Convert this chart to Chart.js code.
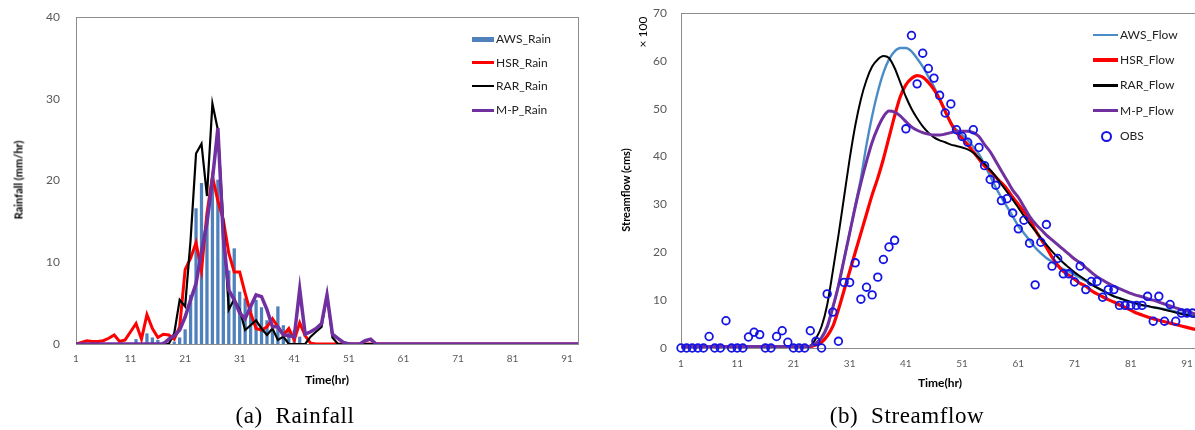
<!DOCTYPE html>
<html>
<head>
<meta charset="utf-8">
<script src="https://cdn.jsdelivr.net/npm/chart.js@4.4.1/dist/chart.umd.min.js"></script>
<style>
  body { margin: 0; width: 1195px; height: 430px; overflow: hidden; background: #fff; position: relative; font-family: Lato, "Open Sans", sans-serif; }
  .wrap { position: absolute; top: 0; height: 380px; }
  .lbl { position: absolute; white-space: nowrap; color: #000; }
  .ytitle { font-weight: bold; font-size: 11px; transform: translate(-50%, -50%) rotate(-90deg); }
  .xtitle { font-weight: bold; font-size: 12px; transform: translate(-50%, -50%); }
  .caption { font-family: "Liberation Serif", "DejaVu Serif", serif; font-size: 23px; letter-spacing: 0.6px; transform: translate(-50%, -50%); }
  .leg { position: absolute; font-size: 12px; color: #222; white-space: nowrap; }
  .leg .sw { position: absolute; }
</style>
</head>
<body>
<div class="wrap" style="left:0; width:600px;"><canvas id="rainChart"></canvas></div>
<div class="wrap" style="left:600px; width:604px;"><canvas id="flowChart"></canvas></div>

<div class="lbl ytitle" style="left:18px; top:180px;">Rainfall (mm/hr)</div>
<div class="lbl xtitle" style="left:327px; top:379px;">Time(hr)</div>
<div class="lbl caption" style="left:295px; top:416px;">(a)&nbsp;&nbsp;Rainfall</div>

<div class="lbl ytitle" style="left:625px; top:190px;">Streamflow (cms)</div>
<div class="lbl ytitle" style="left:642px; top:32px; font-weight:normal; font-size:12px;">× 100</div>
<div class="lbl xtitle" style="left:940px; top:382px;">Time(hr)</div>
<div class="lbl caption" style="left:907px; top:416px;">(b)&nbsp;&nbsp;Streamflow</div>

<script>
// hours 1..93
const hours = Array.from({length: 93}, (_, i) => i + 1);
const tickHours = [1, 11, 21, 31, 41, 51, 61, 71, 81, 91];

// rainfall (mm/hr)
const awsRain = [
  0, 0, 0, 0, 0, 0, 0, 0, 0, 0,
  0, 0.6, 0, 1.3, 0.8, 0.5, 0.3, 0, 0.3, 0.8,
  1.8, 6.0, 16.6, 19.7, 15.0, 19.5, 20.1, 15.0, 9.0, 11.7,
  6.4, 5.6, 4.6, 5.4, 4.5, 2.9, 1.7, 4.6, 2.3, 1.7,
  1.7, 0.9, 0, 0, 0, 0, 0, 0, 0, 0,
  0, 0, 0, 0, 0, 0, 0, 0, 0, 0,
  0, 0, 0, 0, 0, 0, 0, 0, 0, 0,
  0, 0, 0, 0, 0, 0, 0, 0, 0, 0,
  0, 0, 0, 0, 0, 0, 0, 0, 0, 0,
  0, 0, 0
];
const hsrRain = [
  0, 0.2, 0.4, 0.3, 0.3, 0.4, 0.7, 1.1, 0.3, 0.5,
  1.5, 2.5, 0.6, 3.6, 1.9, 0.8, 1.2, 1.1, 0.6, 2.1,
  9.1, 10.5, 12.4, 9.0, 16.0, 20.5, 17.5, 15.2, 11.1, 8.8,
  8.8, 6.2, 3.8, 1.9, 1.7, 2.1, 3.1, 2.1, 1.1, 1.9,
  0.5, 2.6, 1.0, 0.1, 0, 0, 0, 0, 0, 0,
  0, 0, 0, 0, 0, 0, 0, 0, 0, 0,
  0, 0, 0, 0, 0, 0, 0, 0, 0, 0,
  0, 0, 0, 0, 0, 0, 0, 0, 0, 0,
  0, 0, 0, 0, 0, 0, 0, 0, 0, 0,
  0, 0, 0
];
const rarRain = [
  0, 0, 0, 0, 0, 0, 0, 0, 0, 0,
  0, 0, 0, 0, 0, 0, 0, 0, 1.3, 5.4,
  4.6, 12.7, 23.3, 24.5, 18.1, 29.4, 26.2, 14.8, 4.2, 5.5,
  4.2, 1.7, 2.3, 2.9, 1.9, 1.1, 1.9, 0.5, 0.9, 0,
  0, 0, 0, 0.9, 1.5, 2.1, 6.0, 0.8, 0, 0,
  0, 0, 0, 0, 0, 0, 0, 0, 0, 0,
  0, 0, 0, 0, 0, 0, 0, 0, 0, 0,
  0, 0, 0, 0, 0, 0, 0, 0, 0, 0,
  0, 0, 0, 0, 0, 0, 0, 0, 0, 0,
  0, 0, 0
];
const mpRain = [
  0, 0, 0, 0, 0, 0, 0, 0, 0, 0,
  0, 0, 0, 0, 0, 0, 0, 0.6, 1.0, 1.7,
  3.3, 5.4, 7.4, 11.3, 14.8, 20.1, 26.4, 13.0, 6.6, 5.4,
  3.8, 3.1, 4.6, 6.0, 5.8, 4.2, 2.1, 2.1, 1.1, 1.0,
  0.9, 6.7, 1.2, 1.5, 1.9, 2.5, 6.0, 1.2, 0.7, 0.2,
  0, 0, 0, 0.4, 0.6, 0, 0, 0, 0, 0,
  0, 0, 0, 0, 0, 0, 0, 0, 0, 0,
  0, 0, 0, 0, 0, 0, 0, 0, 0, 0,
  0, 0, 0, 0, 0, 0, 0, 0, 0, 0,
  0, 0, 0
];

// streamflow (x100 cms)
const awsFlow = [
  0.3, 0.3, 0.3, 0.3, 0.3, 0.3, 0.3, 0.3, 0.3, 0.3,
  0.3, 0.3, 0.3, 0.3, 0.3, 0.3, 0.3, 0.3, 0.3, 0.3,
  0.3, 0.3, 0.3, 0.4, 0.8, 2.0, 4.2, 8.3, 13, 18.5,
  24, 29.8, 35.5, 42.5, 48.5, 53.5, 57.5, 60.3, 62, 62.7,
  62.7, 62, 60.5, 58.8, 56.7, 54.6, 52, 49.3, 47, 45.6,
  44.5, 43.5, 42, 40.5, 38.3, 35.9, 33.5, 31.4, 29.5, 27.5,
  25.5, 24, 22.5, 21, 19.8, 18.8, 18, 17.2, 16.5, 16,
  15.3, 14.7, 14, 13.3, 12.6, 12, 11.3, 10.8, 10.4, 10,
  9.6, 9.2, 8.9, 8.7, 8.5, 8.3, 8.1, 7.9, 7.6, 7.3,
  7.1, 7.0, 6.8
];
const hsrFlow = [
  0.3, 0.3, 0.3, 0.3, 0.3, 0.3, 0.3, 0.3, 0.3, 0.3,
  0.3, 0.3, 0.3, 0.3, 0.3, 0.3, 0.3, 0.3, 0.3, 0.3,
  0.3, 0.3, 0.3, 0.3, 0.6, 1.2, 2.5, 4.5, 8, 12,
  16, 20, 24, 28, 32, 35.5, 39.5, 44, 48.5, 52.5,
  55, 56.3, 56.9, 56.6, 55.5, 54, 52, 49.5, 47, 45,
  43.8, 42.5, 41, 39.5, 38, 37, 35.7, 34.5, 33.2, 31.5,
  30, 28.5, 27, 24.7, 22.8, 21, 19, 17.3, 16, 15.2,
  14.4, 13.5, 12.9, 12, 11.3, 10.7, 10.1, 9.6, 9, 8.5,
  7.9, 7.3, 6.9, 6.5, 6.1, 5.8, 5.5, 5.2, 4.9, 4.6,
  4.3, 4.0, 3.8
];
const rarFlow = [
  0.3, 0.3, 0.3, 0.3, 0.3, 0.3, 0.3, 0.3, 0.3, 0.3,
  0.3, 0.3, 0.3, 0.3, 0.3, 0.3, 0.3, 0.3, 0.3, 0.3,
  0.3, 0.3, 0.3, 0.5, 2, 4.5, 9, 16, 23.5, 31.5,
  39.5, 46.5, 52, 56, 58.8, 60.3, 61, 60.6, 58.5, 55.5,
  52.5, 50, 48, 46.3, 45, 44, 43.4, 43, 42.5, 42.2,
  41.9, 41.5, 40.8, 39.7, 38.5, 37.2, 35.8, 34.2, 32.6, 31,
  29.3, 27.6, 26, 24.5, 23, 21.6, 20.2, 19, 17.8, 16.8,
  15.8, 15, 14.2, 13.3, 12.6, 12, 11.4, 10.8, 10.4, 10,
  9.6, 9.3, 9, 8.8, 8.5, 8.3, 8, 7.7, 7.4, 7.1,
  6.9, 6.6, 6.4
];
const mpFlow = [
  0.3, 0.3, 0.3, 0.3, 0.3, 0.3, 0.3, 0.3, 0.3, 0.3,
  0.3, 0.3, 0.3, 0.3, 0.3, 0.3, 0.3, 0.3, 0.3, 0.3,
  0.3, 0.3, 0.3, 0.4, 1, 2.2, 4.5, 8.5, 13, 18.5,
  24, 29.5, 34.5, 39, 43, 46, 48.3, 49.5, 49.3, 48.5,
  47.3, 46.2, 45.5, 45, 44.7, 44.5, 44.5, 44.7, 45, 45.3,
  45.3, 45.3, 45, 44.2, 42.5, 41, 39, 37, 35, 33,
  31.5, 29.5, 27.5, 26, 24.8, 23.6, 22.6, 21.6, 20.6, 19.6,
  18.6, 17.8, 16.8, 15.8, 14.9, 14.2, 13.5, 12.9, 12.4, 11.9,
  11.4, 11, 10.7, 10.3, 10, 9.6, 9.2, 8.8, 8.4, 8,
  7.7, 7.3, 7.0
];
const obsFlow = [
  0, 0, 0, 0, 0, 2.4, 0, 0, 5.7, 0,
  0, 0, 2.3, 3.3, 2.8, 0, 0, 2.4, 3.6, 1.2,
  0, 0, 0, 3.6, 1.4, 0, 11.3, 7.5, 1.4, 13.7,
  13.7, 17.8, 10.2, 12.7, 11.1, 14.8, 18.5, 21.1, 22.5, null,
  45.8, 65.3, 55.2, 61.6, 58.4, 56.4, 52.8, 49.1, 51.0, 45.6,
  44.2, 43.0, 45.6, 41.9, 38.1, 35.2, 34.0, 30.8, 31.2, 28.2,
  24.9, 26.7, 21.9, 13.2, 22.1, 25.8, 17.1, 18.7, 15.5, 15.5,
  13.8, 17.1, 12.2, 13.9, 13.9, 10.6, 12.2, 12.2, 8.9, 8.9,
  8.9, 8.9, 8.9, 10.8, 5.6, 10.8, 5.6, 9.1, 5.6, 7.3,
  7.3, 7.3, null
];

const rainNames = ["AWS_Rain", "HSR_Rain", "RAR_Rain", "M-P_Rain"];
const flowNames = ["AWS_Flow", "HSR_Flow", "RAR_Flow", "M-P_Flow", "OBS"];

const BAR_BLUE = "#4F81BD";
const AWS_LINE = "#4A8CC6";
const RED = "#FF0000";
const BLACK = "#000000";
const PURPLE = "#7030A0";
const OBS_BLUE = "#1414E6";

function pts(arr) {
  return hours.map((h, i) => ({x: h, y: arr[i]}));
}

// grey plot box like the excel chart
const boxPlugin = {
  id: "box",
  beforeDatasetsDraw(chart) {
    const a = chart.chartArea, ctx = chart.ctx;
    ctx.save();
    ctx.strokeStyle = "#8c8c8c";
    ctx.lineWidth = 1;
    ctx.strokeRect(Math.round(a.left) + 0.5, Math.round(a.top) + 0.5,
      Math.round(a.right - a.left), Math.round(a.bottom - a.top));
    ctx.restore();
  }
};

function xAxis(h, pad) {
  return {
    type: "linear", min: 1, max: 93, offset: false,
    afterBuildTicks: s => { s.ticks = tickHours.map(v => ({value: v})); },
    afterFit: s => { s.height = h; },
    grid: {display: false, drawTicks: false},
    border: {display: false},
    ticks: {autoSkip: false, maxRotation: 0, padding: pad, color: "#595959", font: {family: "Lato", size: 10}}
  };
}
function yAxis(max, w, pad) {
  return {
    min: 0, max: max,
    // keep the tick padding from pushing the plot top down
    afterFit: s => { s.width = w; s.paddingTop = 7; s.paddingBottom = 7; },
    grid: {display: false, drawTicks: false},
    border: {display: false},
    ticks: {stepSize: 10, padding: pad, color: "#595959", font: {family: "Lato", size: 12}}
  };
}

const rainChart = new Chart(document.getElementById("rainChart"), {
  type: "bar",
  data: {
    datasets: [
      {type: "line", label: rainNames[3], data: pts(mpRain), borderColor: PURPLE, borderWidth: 3.5, pointRadius: 0, tension: 0, order: 0},
      {type: "line", label: rainNames[2], data: pts(rarRain), borderColor: BLACK, borderWidth: 2.2, pointRadius: 0, tension: 0, order: 1},
      {type: "line", label: rainNames[1], data: pts(hsrRain), borderColor: RED, borderWidth: 3, pointRadius: 0, tension: 0, order: 2},
      {type: "bar", label: rainNames[0], data: pts(awsRain), backgroundColor: BAR_BLUE, barPercentage: 0.6, categoryPercentage: 1, order: 3}
    ]
  },
  options: {
    responsive: true, maintainAspectRatio: false, animation: false,
    layout: {padding: {top: 17, right: 22, left: 0, bottom: 0}},
    plugins: {legend: {display: false}, tooltip: {enabled: false}},
    scales: {x: xAxis(36, 9), y: yAxis(40, 76, 16)}
  },
  plugins: [boxPlugin]
});

const flowChart = new Chart(document.getElementById("flowChart"), {
  type: "line",
  data: {
    datasets: [
      {label: flowNames[4], data: pts(obsFlow), showLine: false, pointStyle: "circle", pointRadius: 3.8, borderWidth: 1.8, borderColor: OBS_BLUE, backgroundColor: "rgba(0,0,0,0)", clip: false, order: 0},
      {label: flowNames[3], data: pts(mpFlow), borderColor: PURPLE, borderWidth: 3, pointRadius: 0, cubicInterpolationMode: "monotone", order: 1},
      {label: flowNames[2], data: pts(rarFlow), borderColor: BLACK, borderWidth: 2, pointRadius: 0, cubicInterpolationMode: "monotone", order: 2},
      {label: flowNames[1], data: pts(hsrFlow), borderColor: RED, borderWidth: 3.2, pointRadius: 0, cubicInterpolationMode: "monotone", order: 3},
      {label: flowNames[0], data: pts(awsFlow), borderColor: AWS_LINE, borderWidth: 2.4, pointRadius: 0, cubicInterpolationMode: "monotone", order: 4}
    ]
  },
  options: {
    responsive: true, maintainAspectRatio: false, animation: false,
    layout: {padding: {top: 13, right: 1, left: 0, bottom: 0}},
    plugins: {legend: {display: false}, tooltip: {enabled: false}},
    scales: {x: xAxis(32, 10), y: yAxis(70, 81, 14)}
  },
  plugins: [boxPlugin]
});

// legends inside the plots
function addLegend(names, styles, left, top, step) {
  names.forEach((name, i) => {
    const row = document.createElement("div");
    row.className = "leg";
    row.style.left = left + "px";
    row.style.top = (top + i * step - 8) + "px";
    row.style.height = "16px";
    const st = styles[i];
    const sw = document.createElement("div");
    sw.className = "sw";
    if (st.circle) {
      sw.style.cssText = "left:8px;top:3px;width:7px;height:7px;border:2px solid " + st.color + ";border-radius:50%;";
    } else {
      sw.style.cssText = "left:0;top:" + (8 - st.h / 2) + "px;width:" + st.w + "px;height:" + st.h + "px;background:" + st.color + ";";
    }
    row.appendChild(sw);
    const t = document.createElement("span");
    t.textContent = name;
    t.style.cssText = "position:absolute;left:" + (st.w + 2) + "px;top:0;line-height:16px;";
    row.appendChild(t);
    document.body.appendChild(row);
  });
}
addLegend(rainNames, [
  {color: BAR_BLUE, w: 22, h: 5},
  {color: RED, w: 22, h: 3},
  {color: BLACK, w: 22, h: 2},
  {color: PURPLE, w: 22, h: 3}
], 472, 39, 23.7);
addLegend(flowNames, [
  {color: AWS_LINE, w: 25, h: 2.5},
  {color: RED, w: 25, h: 3.5},
  {color: BLACK, w: 25, h: 2.5},
  {color: PURPLE, w: 25, h: 3.5},
  {color: OBS_BLUE, w: 25, h: 0, circle: true}
], 1093, 35, 25.2);
</script>
</body>
</html>
